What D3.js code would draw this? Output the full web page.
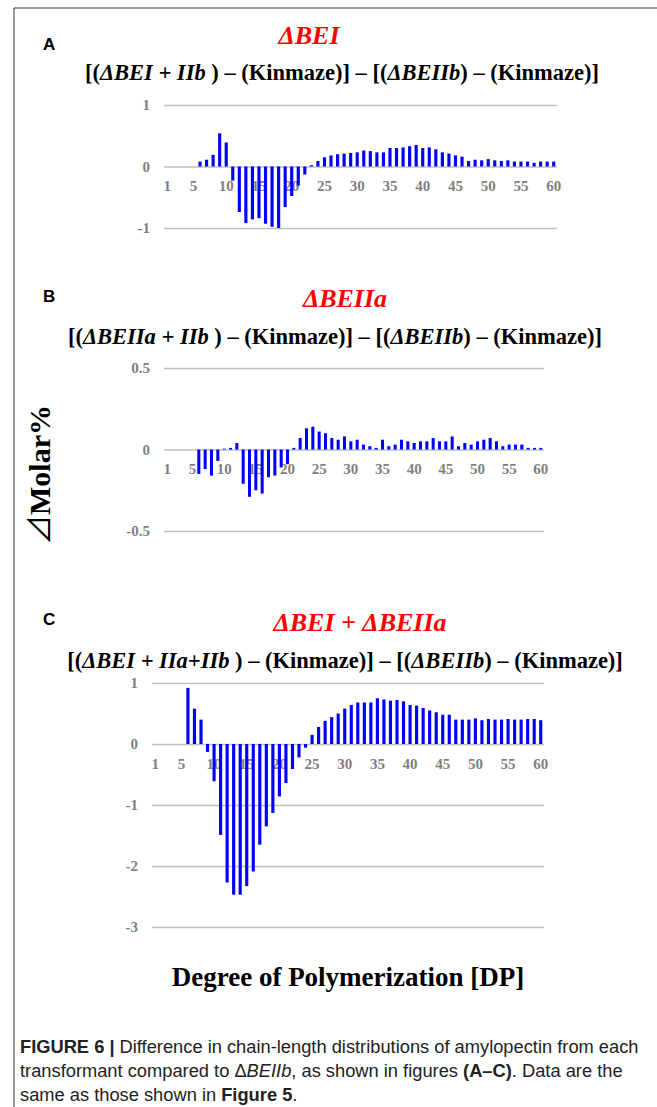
<!DOCTYPE html>
<html>
<head>
<meta charset="utf-8">
<script src="https://cdn.jsdelivr.net/npm/d3@7"></script>
<style>
  body { margin: 0; background: #fff; }
  svg text { font-family: "Liberation Serif", "Times New Roman", serif; }
</style>
</head>
<body>
<div id="chart"></div>
<script>
// Degree of polymerization (x categories)
var dp = d3.range(1, 61);
var xTickLabels = [1, 5, 10, 15, 20, 25, 30, 35, 40, 45, 50, 55, 60];

// Panel A: [(dBEI + IIb) - Kinmaze] - [(dBEIIb) - Kinmaze]
var valuesA = [0, 0, 0, 0, 0, 0.08, 0.11, 0.19, 0.54, 0.39,
    -0.23, -0.74, -0.92, -0.86, -0.84, -0.93, -0.98, -1.0, -0.66, -0.48,
    -0.31, -0.13, 0.02, 0.09, 0.15, 0.18, 0.20, 0.21, 0.22, 0.23,
    0.26, 0.25, 0.23, 0.23, 0.30, 0.30, 0.31, 0.33, 0.35, 0.30,
    0.31, 0.28, 0.23, 0.21, 0.18, 0.16, 0.09, 0.11, 0.10, 0.12,
    0.10, 0.09, 0.10, 0.08, 0.08, 0.08, 0.06, 0.08, 0.08, 0.08];
var yTicksA = [1, 0, -1];

// Panel B: [(dBEIIa + IIb) - Kinmaze] - [(dBEIIb) - Kinmaze]
var valuesB = [0, 0, 0, 0, 0, -0.15, -0.12, -0.16, -0.07, 0.005,
    0.01, 0.04, -0.21, -0.29, -0.25, -0.27, -0.17, -0.16, -0.11, -0.09,
    0.01, 0.07, 0.13, 0.14, 0.11, 0.10, 0.07, 0.06, 0.08, 0.05,
    0.06, 0.03, 0.02, 0.01, 0.06, 0.02, 0.03, 0.06, 0.05, 0.04,
    0.05, 0.05, 0.07, 0.05, 0.05, 0.08, 0.02, 0.04, 0.03, 0.05,
    0.06, 0.07, 0.05, 0.02, 0.03, 0.03, 0.03, 0.01, 0.01, 0.01];
var yTicksB = [0.5, 0, -0.5];

// Panel C: [(dBEI + IIa+IIb) - Kinmaze] - [(dBEIIb) - Kinmaze]
var valuesC = [0, 0, 0, 0, 0, 0.92, 0.58, 0.40, -0.13, -0.61,
    -1.49, -2.27, -2.47, -2.47, -2.33, -2.09, -1.65, -1.35, -1.13, -0.86,
    -0.64, -0.41, -0.22, -0.06, 0.15, 0.28, 0.38, 0.44, 0.50, 0.58,
    0.64, 0.68, 0.68, 0.68, 0.75, 0.73, 0.71, 0.72, 0.70, 0.64,
    0.63, 0.59, 0.55, 0.52, 0.48, 0.48, 0.40, 0.40, 0.40, 0.42,
    0.39, 0.41, 0.40, 0.40, 0.41, 0.40, 0.40, 0.41, 0.41, 0.39];
var yTicksC = [1, 0, -1, -2, -3];

var W = 657, H = 1107;
var svg = d3.select("#chart").append("svg")
    .attr("width", W)
    .attr("height", H);

// frame lines (left and top)
svg.append("line").attr("x1", 14).attr("y1", 8).attr("x2", W).attr("y2", 8)
    .attr("stroke", "#333").attr("stroke-width", 1);
svg.append("line").attr("x1", 14).attr("y1", 8).attr("x2", 14).attr("y2", H)
    .attr("stroke", "#333").attr("stroke-width", 1);

// panel layouts
var panels = [
    { letter: "A", letterY: 50, values: valuesA, ticks: yTicksA,
      x0: 164, x1: 557, yTop: 105, yBot: 228, dom: [-1, 1],
      title: "ΔBEI", titleX: 309, titleY: 44,
      sub: [["[(", false], ["ΔBEI + IIb", true], [" ) – (Kinmaze)] – [(", false], ["ΔBEIIb", true], [") – (Kinmaze)]", false]],
      subX: 342, subY: 80 },
    { letter: "B", letterY: 302, values: valuesB, ticks: yTicksB,
      x0: 164, x1: 544, yTop: 368, yBot: 531, dom: [-0.5, 0.5],
      title: "ΔBEIIa", titleX: 345, titleY: 307,
      sub: [["[(", false], ["ΔBEIIa + IIb", true], [" ) – (Kinmaze)] – [(", false], ["ΔBEIIb", true], [") – (Kinmaze)]", false]],
      subX: 335, subY: 344 },
    { letter: "C", letterY: 625, values: valuesC, ticks: yTicksC,
      x0: 152, x1: 544, yTop: 683, yBot: 927, dom: [-3, 1],
      title: "ΔBEI + ΔBEIIa", titleX: 360, titleY: 631,
      sub: [["[(", false], ["ΔBEI + IIa+IIb", true], [" ) – (Kinmaze)] – [(", false], ["ΔBEIIb", true], [") – (Kinmaze)]", false]],
      subX: 345, subY: 668 }
];

panels.forEach(function (p) {
    var g = svg.append("g");

    // panel letter
    g.append("text")
        .attr("x", 43).attr("y", p.letterY)
        .style("font-family", "'Liberation Sans', Arial, sans-serif")
        .style("font-weight", "bold")
        .style("font-size", "17px")
        .text(p.letter);

    // red title
    g.append("text")
        .attr("x", p.titleX).attr("y", p.titleY)
        .attr("text-anchor", "middle")
        .attr("fill", "#ff0000")
        .style("font-weight", "bold")
        .style("font-style", "italic")
        .style("font-size", "26px")
        .text(p.title);

    // formula subtitle
    var sub = g.append("text")
        .attr("x", p.subX).attr("y", p.subY)
        .attr("text-anchor", "middle")
        .style("font-weight", "bold")
        .style("font-size", "22.5px");
    p.sub.forEach(function (s) {
        sub.append("tspan")
            .style("font-style", s[1] ? "italic" : "normal")
            .text(s[0]);
    });

    var x = d3.scaleBand()
        .domain(dp)
        .range([p.x0, p.x1])
        .paddingInner(0.52)
        .paddingOuter(0.26);

    var y = d3.scaleLinear()
        .domain(p.dom)
        .range([p.yBot, p.yTop]);

    // gridlines + y tick labels
    var yAxis = d3.axisLeft(y)
        .tickValues(p.ticks)
        .tickSize(-(p.x1 - p.x0))
        .tickPadding(14)
        .tickFormat(function (d) { return String(d); });
    var ya = g.append("g")
        .attr("transform", "translate(" + p.x0 + ",0)")
        .call(yAxis);
    ya.select(".domain").remove();
    ya.selectAll(".tick line")
        .attr("stroke", "#c0c0c0")
        .attr("stroke-width", 1.5);
    ya.selectAll(".tick text")
        .attr("fill", "#7f7f7f")
        .style("font-family", "'Liberation Serif', serif")
        .style("font-weight", "bold")
        .style("font-size", "15px");

    // x tick labels under zero line
    var xAxis = d3.axisBottom(x)
        .tickValues(xTickLabels)
        .tickSize(0)
        .tickPadding(14);
    var xa = g.append("g")
        .attr("transform", "translate(0," + y(0) + ")")
        .call(xAxis);
    xa.select(".domain").remove();
    xa.selectAll(".tick text")
        .attr("fill", "#7f7f7f")
        .style("font-family", "'Liberation Serif', serif")
        .style("font-weight", "bold")
        .style("font-size", "15px");

    // bars
    g.append("g").selectAll("rect")
        .data(p.values)
        .join("rect")
        .attr("x", function (d, i) { return x(dp[i]); })
        .attr("width", x.bandwidth())
        .attr("y", function (d) { return Math.min(y(d), y(0)); })
        .attr("height", function (d) { return Math.abs(y(d) - y(0)); })
        .attr("fill", "#0000ff");
});

// y axis title (outline triangle from the CJK font)
var yTitle = svg.append("text")
    .attr("transform", "translate(50,475) rotate(-90)")
    .attr("text-anchor", "middle")
    .style("font-weight", "bold")
    .style("font-size", "30px");
yTitle.append("tspan")
    .style("font-family", "'Noto Sans CJK JP', sans-serif")
    .style("font-weight", "normal")
    .text("⊿");
yTitle.append("tspan").text("Molar%");

// x axis title
svg.append("text")
    .attr("x", 348).attr("y", 986)
    .attr("text-anchor", "middle")
    .style("font-weight", "bold")
    .style("font-size", "27px")
    .text("Degree of Polymerization [DP]");

// caption
var capLines = [
    [["FIGURE 6 | ", "b"], ["Difference in chain-length distributions of amylopectin from each", ""]],
    [["transformant compared to Δ", ""], ["BEIIb", "i"], [", as shown in figures ", ""], ["(A–C)", "b"], [". Data are the", ""]],
    [["same as those shown in ", ""], ["Figure 5", "b"], [".", ""]]
];
capLines.forEach(function (line, li) {
    var t = svg.append("text")
        .attr("x", 20).attr("y", 1053 + li * 24)
        .attr("fill", "#222")
        .style("font-family", "'Liberation Sans', Arial, sans-serif")
        .style("font-size", "18.3px");
    line.forEach(function (s) {
        t.append("tspan")
            .style("font-family", "'Liberation Sans', Arial, sans-serif")
            .style("font-weight", s[1] === "b" ? "bold" : "normal")
            .style("font-style", s[1] === "i" ? "italic" : "normal")
            .text(s[0]);
    });
});
</script>
</body>
</html>
